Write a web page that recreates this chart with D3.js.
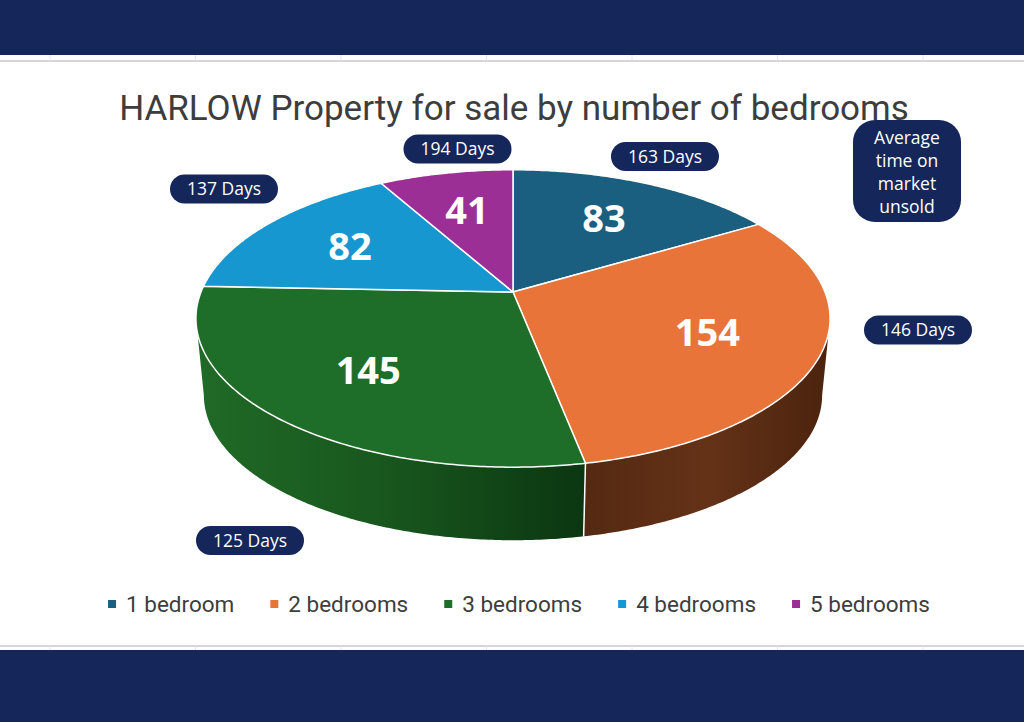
<!DOCTYPE html>
<html>
<head>
<meta charset="utf-8">
<script src="https://cdn.jsdelivr.net/npm/d3@7"></script>
<style>
  body { margin: 0; background: #fff; }
  svg { display: block; }
</style>
</head>
<body>
<div id="chart-area"></div>
<script>
// data
var categories = ["1 bedroom", "2 bedrooms", "3 bedrooms", "4 bedrooms", "5 bedrooms"];
var listings = [83, 154, 145, 82, 41];
var daysOnMarket = [163, 146, 125, 137, 194];
var titleText = "HARLOW Property for sale by number of bedrooms";
var noteLines = ["Average", "time on", "market", "unsold"];

// styling
var topColors = ["#1b5f80", "#e8743a", "#1e6e2a", "#1797d0", "#9b2f95"];
var sideColors = [
    ["#123f55", "#0d2f40"],
    ["#552912", "#643217", "#4b230e"],
    ["#206a27", "#18561d", "#0b3611"],
    ["#0f6d96", "#0b5577"],
    ["#6e2069", "#541850"]
];
var navy = "#15265a";

// where the "Days" pills sit (layout only)
var pillPos = [[665, 156.5], [918, 330], [250, 540.5], [224, 189], [457.5, 149]];

var W = 1024, H = 722;

var svg = d3.select("#chart-area")
    .append("svg")
        .attr("width", W)
        .attr("height", H);

var defs = svg.append("defs");

// page frame
svg.append("rect").attr("x", 0).attr("y", 0).attr("width", W).attr("height", 55).attr("fill", navy);
svg.append("rect").attr("x", 0).attr("y", 650).attr("width", W).attr("height", H - 650).attr("fill", navy);
svg.append("line").attr("x1", 0).attr("x2", W).attr("y1", 61).attr("y2", 61)
    .attr("stroke", "#c9c9c9").attr("stroke-width", 1.5);
svg.append("line").attr("x1", 0).attr("x2", W).attr("y1", 646).attr("y2", 646)
    .attr("stroke", "#c9c9c9").attr("stroke-width", 1.5);
d3.range(50, W, 145.5).forEach(x => {
    svg.append("line").attr("x1", x).attr("x2", x).attr("y1", 55).attr("y2", 61)
        .attr("stroke", "#e6e6e6").attr("stroke-width", 1);
    svg.append("line").attr("x1", x).attr("x2", x).attr("y1", 646).attr("y2", 650)
        .attr("stroke", "#e6e6e6").attr("stroke-width", 1);
});

// title
svg.append("text")
    .attr("x", 514)
    .attr("y", 120)
    .attr("text-anchor", "middle")
    .attr("font-family", "Roboto, sans-serif")
    .attr("font-size", 35)
    .attr("fill", "#3d3d3d")
    .text(titleText);

// perspective projection of the pie disc (top face and the lower, farther face)
var cx = 513, cy = 292, rx = 312, ry = 144, k = 0.178;
var baseScale = 0.975, baseDrop = 77.4;
function project(theta, r) {
    var s = Math.sin(theta), c = Math.cos(theta);
    var d = 1 + k * r * c;
    return [cx + rx * r * s / d, cy - ry * r * c / d];
}
function projectBase(theta) {
    var s = Math.sin(theta), c = Math.cos(theta);
    var d = 1 + k * c;
    return [cx + rx * baseScale * s / d, cy + baseDrop - ry * baseScale * c / d];
}
function sample(a0, a1, fn) {
    var n = Math.max(2, Math.ceil(Math.abs(a1 - a0) / 0.01));
    return d3.range(n + 1).map(i => fn(a0 + (a1 - a0) * i / n));
}

var pie = d3.pie().sort(null).value(d => d);
var arcs = pie(listings);

// visible front wall goes from the right extreme round to the left extreme
var frontStart = Math.acos(-k), frontEnd = 2 * Math.PI - frontStart;

var line = d3.line();
var sides = svg.append("g").attr("class", "sides");
arcs.forEach((d, i) => {
    var lo = Math.max(d.startAngle, frontStart), hi = Math.min(d.endAngle, frontEnd);
    if (hi <= lo) return;
    var topPts = sample(lo, hi, t => project(t, 1));
    var botPts = sample(hi, lo, projectBase);
    var xs = topPts.map(p => p[0]);
    var grad = defs.append("linearGradient")
        .attr("id", "side" + i)
        .attr("gradientUnits", "userSpaceOnUse")
        .attr("x1", d3.min(xs)).attr("x2", d3.max(xs))
        .attr("y1", 0).attr("y2", 0);
    var cs = sideColors[i];
    cs.forEach((c, j) => {
        grad.append("stop").attr("offset", j / (cs.length - 1)).attr("stop-color", c);
    });
    sides.append("path")
        .attr("d", line(topPts.concat(botPts)) + "Z")
        .attr("fill", "url(#side" + i + ")");
});
// white seams on the wall where slices meet
arcs.forEach(d => {
    var a = d.startAngle;
    if (a > frontStart && a < frontEnd) {
        var p = project(a, 1), q = projectBase(a);
        sides.append("line")
            .attr("x1", p[0]).attr("y1", p[1])
            .attr("x2", q[0]).attr("y2", q[1])
            .attr("stroke", "#fff").attr("stroke-width", 1.5);
    }
});

// top faces
var tops = svg.append("g").attr("class", "tops");
arcs.forEach((d, i) => {
    var pts = [project(0, 0)].concat(sample(d.startAngle, d.endAngle, t => project(t, 1)));
    tops.append("path")
        .attr("d", line(pts) + "Z")
        .attr("fill", topColors[i])
        .attr("stroke", "#fff")
        .attr("stroke-width", 1.5)
        .attr("stroke-linejoin", "round");
});

// value labels
arcs.forEach((d, i) => {
    var p = project((d.startAngle + d.endAngle) / 2, 0.65);
    svg.append("text")
        .attr("x", p[0])
        .attr("y", p[1])
        .attr("dy", "0.36em")
        .attr("text-anchor", "middle")
        .attr("font-family", "'Open Sans', sans-serif")
        .attr("font-weight", "bold")
        .attr("font-size", 38)
        .attr("fill", "#fff")
        .text(d.data);
});

// "Days" pills
var pillW = 108, pillH = 29;
daysOnMarket.forEach((v, i) => {
    var g = svg.append("g").attr("transform", "translate(" + pillPos[i][0] + "," + pillPos[i][1] + ")");
    g.append("rect")
        .attr("x", -pillW / 2).attr("y", -pillH / 2)
        .attr("width", pillW).attr("height", pillH)
        .attr("rx", pillH / 2)
        .attr("fill", navy);
    g.append("text")
        .attr("text-anchor", "middle")
        .attr("dy", "0.35em")
        .attr("font-family", "'Open Sans', sans-serif")
        .attr("font-size", 17.5)
        .attr("fill", "#fff")
        .text(v + " Days");
});

// note box
var note = svg.append("g").attr("transform", "translate(907,171)");
note.append("rect")
    .attr("x", -54).attr("y", -51)
    .attr("width", 108).attr("height", 102)
    .attr("rx", 22)
    .attr("fill", navy);
note.selectAll("text")
    .data(noteLines)
    .enter()
    .append("text")
        .attr("text-anchor", "middle")
        .attr("y", (d, i) => -33.5 + i * 23.2)
        .attr("dy", "0.35em")
        .attr("font-family", "'Open Sans', sans-serif")
        .attr("font-size", 17.5)
        .attr("fill", "#fff")
        .text(d => d);

// legend
var legend = svg.append("g");
var cursor = 0;
categories.forEach((c, i) => {
    var item = legend.append("g").attr("transform", "translate(" + cursor + ",0)");
    item.append("rect")
        .attr("x", 0).attr("y", -4)
        .attr("width", 8).attr("height", 8)
        .attr("fill", topColors[i]);
    var t = item.append("text")
        .attr("x", 18)
        .attr("dy", "0.35em")
        .attr("font-family", "Roboto, sans-serif")
        .attr("font-size", 22.5)
        .attr("fill", "#3d3d3d")
        .text(c);
    cursor += 18 + t.node().getComputedTextLength() + 36;
});
var legendW = cursor - 36;
legend.attr("transform", "translate(" + (519 - legendW / 2) + ",604)");
</script>
</body>
</html>
